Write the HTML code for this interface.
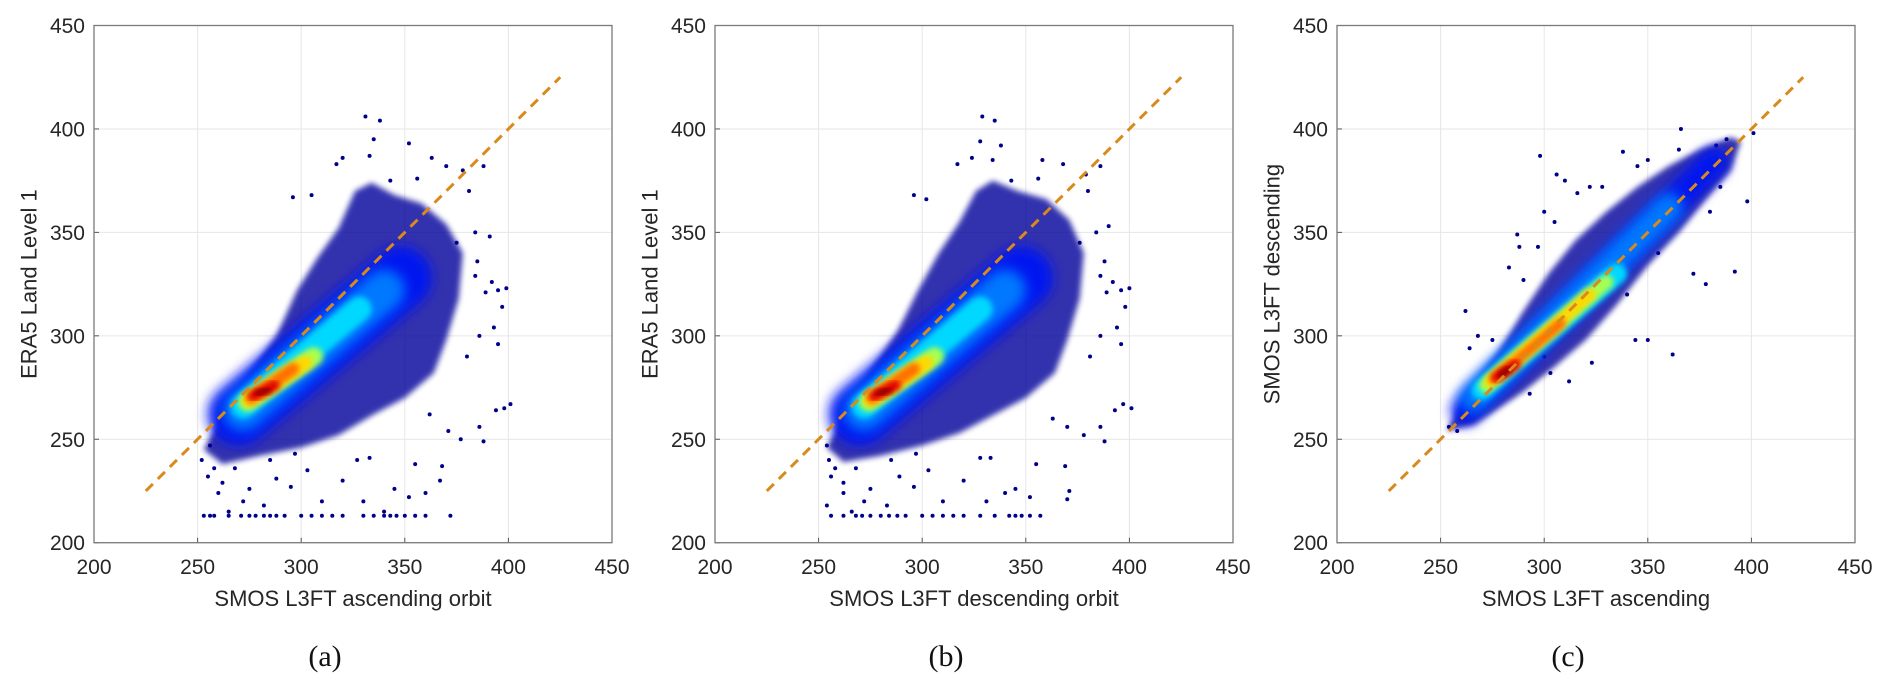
<!DOCTYPE html>
<html><head><meta charset="utf-8"><style>
html,body{margin:0;padding:0;background:#fff;}
svg{display:block;}
</style></head><body>
<svg id="fig" width="1892" height="690" viewBox="0 0 1892 690" xmlns="http://www.w3.org/2000/svg">
<defs>
<filter id="blur1" x="-50%" y="-50%" width="200%" height="200%"><feGaussianBlur stdDeviation="6"/></filter>
<filter id="blur2" x="-50%" y="-50%" width="200%" height="200%"><feGaussianBlur stdDeviation="3"/></filter>
</defs>
</svg>
<script>
// ---- data ----
const tickValues = [200,250,300,350,400,450];
const panelIds = ['a','b','c'];
const panelLefts = [94, 715, 1337];
const xTitles = ['SMOS L3FT ascending orbit','SMOS L3FT descending orbit','SMOS L3FT ascending'];
const yTitles = ['ERA5 Land Level 1','ERA5 Land Level 1','SMOS L3FT descending'];
const captions = ['(a)','(b)','(c)'];
const oneToOne = [225,425];

// navy cloud outlines (data units)
const hullA = [[253,245],[262,262],[275,282],[288,300],[298,322],[308,338],[318,352],[326,370],[334,374],[345,368],[358,364],[370,354],[378,340],[376,318],[370,298],[364,282],[350,270],[335,262],[318,252],[300,246],[280,242],[262,238]];
const hullB = [[254,246],[262,262],[275,283],[288,302],[298,322],[308,340],[318,355],[326,370],[334,375],[346,370],[360,366],[371,356],[378,340],[376,318],[370,298],[364,282],[350,270],[335,262],[318,253],[300,247],[280,242],[262,239]];
const hullC = [[253,254],[258,264],[266,276],[278,292],[290,312],[302,330],[315,346],[330,360],[345,372],[360,382],[375,390],[390,396],[395,394],[390,380],[378,366],[365,350],[350,334],[335,315],[320,298],[305,285],[290,273],[278,265],[266,257]];

// density cores: [x1,y1,x2,y2,width] in data units per colour level
const levelColors = ['#0018f0','#0078ff','#00d8ff','#a8ff50','#ffd800','#ff7000','#e00000','#8a0000'];
const coresA = [[270,262,348,328,30],[272,264,340,322,20],[272,266,328,313,12],[274,268,306,290,9],[275,269,302,287,7],[276,270,296,284,6],[277,271,287,276,5],[279,272,284,274,3]];
const coresB = [[270,262,348,328,30],[272,264,340,322,20],[272,266,328,313,12],[274,268,306,290,9],[275,269,302,287,7],[276,270,296,284,6],[277,271,287,276,5],[279,272,284,274,3]];
const coresC = [[262,264,382,384,14],[266,270,360,362,14],[270,274,335,330,10],[272,276,330,326,7],[274,278,322,320,6],[276,279,308,306,5],[277,280,286,286,5],[279,281,283,284,3]];

// outlier points
const ptsA = [[331,406],[338,404],[335,395],[352,393],[296,367],[305,368],[317,383],[320,386],[333,387],[363,386],[370,382],[378,380],[388,382],[381,370],[385,336],[391,348],[384,329],[392,326],[389,321],[395,322],[399,323],[397,314],[393,304],[395,296],[398,265],[401,267],[394,264],[386,256],[388,249],[377,250],[371,254],[362,262],[355,238],[368,237],[367,230],[360,224],[352,222],[345,226],[333,241],[327,240],[320,230],[310,220],[303,235],[295,227],[288,231],[282,218],[275,226],[268,236],[262,229],[258,236],[256,247],[252,240],[255,232],[260,224],[265,215],[272,220],[285,240],[297,243],[330,220],[340,215],[253,213],[256,213],[258,213],[265,213],[271,213],[275,213],[278,213],[282,213],[285,213],[288,213],[292,213],[300,213],[305,213],[310,213],[315,213],[320,213],[330,213],[335,213],[340,213],[343,213],[346,213],[350,213],[355,213],[360,213],[372,213],[380,290],[386,300],[375,345],[384,350],[343,375],[356,376]];
const ptsB = [[329,406],[335,404],[328,394],[338,392],[296,368],[302,366],[317,383],[324,386],[334,385],[358,385],[368,383],[379,378],[386,382],[380,370],[388,336],[390,353],[386,329],[392,326],[389,321],[396,322],[400,323],[398,314],[394,304],[396,296],[397,267],[401,265],[393,264],[386,256],[388,249],[378,252],[370,256],[363,260],[355,238],[369,237],[371,225],[370,221],[352,222],[345,226],[333,241],[328,241],[320,230],[310,220],[303,235],[296,227],[289,232],[283,218],[275,226],[268,236],[262,229],[258,236],[254,247],[255,240],[256,232],[262,224],[266,215],[272,220],[285,240],[297,243],[331,220],[340,224],[254,218],[256,213],[262,213],[268,213],[271,213],[275,213],[280,213],[284,213],[288,213],[292,213],[300,213],[305,213],[310,213],[315,213],[320,213],[328,213],[335,213],[342,213],[345,213],[348,213],[352,213],[357,213],[381,290],[386,300],[376,345],[384,350],[343,375],[356,376]];
const ptsC = [[298,387],[306,378],[338,389],[366,400],[401,398],[398,365],[392,331],[378,325],[372,330],[362,291],[350,298],[344,298],[323,287],[312,278],[303,282],[293,272],[262,312],[264,294],[287,349],[288,343],[283,333],[290,327],[297,343],[300,360],[305,355],[316,369],[322,372],[345,382],[365,390],[383,392],[388,395],[258,254],[254,256],[360,355],[310,375],[328,372],[350,385],[380,360],[385,372],[340,320],[355,340],[300,290],[268,300],[275,298]];

const hulls = [hullA, hullB, hullC];
const cores = [coresA, coresB, coresC];
const pts = [ptsA, ptsB, ptsC];

// ---- drawing ----
const NS = 'http://www.w3.org/2000/svg';
const svg = document.getElementById('fig');
const PLOT_TOP = 25.5, PLOT_BOTTOM = 542.7, PLOT_W = 518;
function mk(tag, attrs, parent){
  const e = document.createElementNS(NS, tag);
  for (const k in attrs) e.setAttribute(k, attrs[k]);
  (parent||svg).appendChild(e);
  return e;
}
const DMIN = 200, DMAX = 450;
panelIds.forEach((id, i) => {
  const L = panelLefts[i];
  const xs = v => L + (v - DMIN) / (DMAX - DMIN) * PLOT_W;
  const ys = v => PLOT_BOTTOM - (v - DMIN) / (DMAX - DMIN) * (PLOT_BOTTOM - PLOT_TOP);
  const g = mk('g', {});
  
  
  mk('rect', {x:L, y:PLOT_TOP, width:PLOT_W, height:PLOT_BOTTOM-PLOT_TOP, fill:'#fff'}, g);
  tickValues.forEach(t => {
    const gx = mk('line', {x1:xs(t), x2:xs(t), y1:PLOT_TOP, y2:PLOT_BOTTOM, stroke:'#e6e6e6', 'stroke-width':1}, g);
    
    
    const gy = mk('line', {x1:L, x2:L+PLOT_W, y1:ys(t), y2:ys(t), stroke:'#e6e6e6', 'stroke-width':1}, g);
    
    
    const xt = mk('text', {x:xs(t), y:574, 'text-anchor':'middle', 'font-family':'Liberation Sans, sans-serif', 'font-size':21, fill:'#262626'}, g);
    xt.textContent = t;
    
    
    const yt = mk('text', {x:L-9, y:ys(t)+7.5, 'text-anchor':'end', 'font-family':'Liberation Sans, sans-serif', 'font-size':21, fill:'#262626'}, g);
    yt.textContent = t;
    
    
    mk('line', {x1:xs(t), x2:xs(t), y1:PLOT_BOTTOM, y2:PLOT_BOTTOM-5, stroke:'#555'}, g);
    mk('line', {x1:L, x2:L+5, y1:ys(t), y2:ys(t), stroke:'#555'}, g);
  });
  const hp = mk('polygon', {points: hulls[i].map(p => xs(p[0])+','+ys(p[1])).join(' '), fill:'#00009a', opacity:0.8, filter:'url(#blur2)'}, g);
  
  
  pts[i].forEach(p => {
    const c = mk('circle', {cx:xs(p[0]), cy:ys(p[1]), r:2, fill:'#00008b'}, g);
    
    
  });
  cores[i].forEach((c, k) => {
    const sc = PLOT_W / (DMAX - DMIN);
    const ln = mk('line', {x1:xs(c[0]), y1:ys(c[1]), x2:xs(c[2]), y2:ys(c[3]), stroke:levelColors[k], 'stroke-width':c[4]*sc, 'stroke-linecap':'round', filter: k<2 ? 'url(#blur1)' : 'url(#blur2)'}, g);
    
    
  });
  const d = mk('line', {x1:xs(oneToOne[0]), y1:ys(oneToOne[0]), x2:xs(oneToOne[1]), y2:ys(oneToOne[1]), stroke:'#d98a1c', 'stroke-width':3, 'stroke-dasharray':'10 7'}, g);
  
  
  const b = mk('rect', {x:L, y:PLOT_TOP, width:PLOT_W, height:PLOT_BOTTOM-PLOT_TOP, fill:'none', stroke:'#7a7a7a', 'stroke-width':1.3}, g);
  
  
  const xtl = mk('text', {x:L+PLOT_W/2, y:606, 'text-anchor':'middle', 'font-family':'Liberation Sans, sans-serif', 'font-size':22, fill:'#262626'}, g);
  xtl.textContent = xTitles[i];
  
  
  const ycx = L - 65, ycy = (PLOT_TOP + PLOT_BOTTOM) / 2;
  const ytl = mk('text', {x:ycx, y:ycy, 'text-anchor':'middle', 'dominant-baseline':'central', transform:'rotate(-90 '+ycx+' '+ycy+')', 'font-family':'Liberation Sans, sans-serif', 'font-size':22, fill:'#262626'}, g);
  ytl.textContent = yTitles[i];
  
  
  const cap = mk('text', {x:L+PLOT_W/2-28, y:666, 'text-anchor':'middle', 'font-family':'Liberation Serif, serif', 'font-size':30, fill:'#111'}, g);
  cap.textContent = captions[i];
  
  
});
</script>
</body></html>
